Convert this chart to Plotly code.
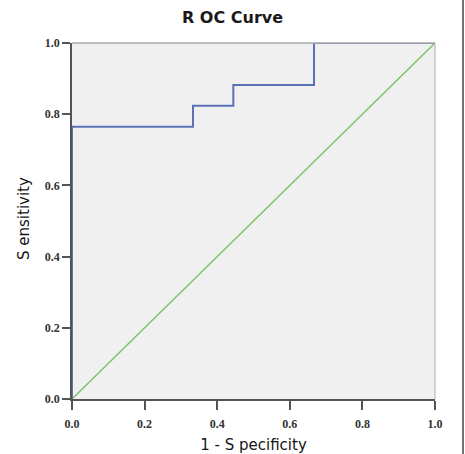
import plotly.graph_objects as go

# ROC curve data (1 - specificity, sensitivity)
fpr = [0.0, 0.0, 3/9, 3/9, 4/9, 4/9, 6/9, 6/9, 1.0]
tpr = [0.0, 13/17, 13/17, 14/17, 14/17, 15/17, 15/17, 1.0, 1.0]
ref_x = [0.0, 1.0]
ref_y = [0.0, 1.0]
tick_vals = [0.0, 0.2, 0.4, 0.6, 0.8, 1.0]
tick_text = ["0.0", "0.2", "0.4", "0.6", "0.8", "1.0"]

fig = go.Figure()
fig.add_trace(go.Scatter(x=ref_x, y=ref_y, mode="lines", cliponaxis=False,
                         line=dict(color="#7cc46a", width=1.5), showlegend=False, hoverinfo="skip"))
fig.add_trace(go.Scatter(x=fpr, y=tpr, mode="lines", cliponaxis=False,
                         line=dict(color="#5b72b8", width=2), showlegend=False))

tickfont = dict(family="Liberation Serif, Times New Roman, serif", size=12,
                color="#333333", weight="bold")
titlefont = dict(family="DejaVu Sans, sans-serif", size=15, color="#151515")
axis_common = dict(range=[0, 1], tickvals=tick_vals, ticktext=tick_text, ticks="outside",
                   tickwidth=1.5, tickcolor="#555555", showline=True,
                   linecolor="#555555", linewidth=1.5, showgrid=False, zeroline=False,
                   tickfont=tickfont, fixedrange=True, automargin=False)

fig.update_layout(
    width=465, height=454,
    margin=dict(l=72, r=30, t=43, b=55),
    paper_bgcolor="white", plot_bgcolor="#f0f0f0",
    title=dict(text="R OC Curve", x=0.5, xanchor="center", y=0.962, yanchor="middle",
               font=dict(family="DejaVu Sans, sans-serif", size=16, color="#1a1a1a",
                         weight="bold")),
    xaxis=dict(**axis_common, ticklen=9, ticklabelstandoff=4,
               title=dict(text="1 - S pecificity", font=titlefont)),
    yaxis=dict(**axis_common, ticklen=8),
    annotations=[
        dict(text="S ensitivity", xref="paper", yref="paper", x=(24 - 72) / 363,
             y=(399 - 219) / 356, xanchor="center", yanchor="middle", textangle=-90,
             showarrow=False, font=titlefont),
    ],
    shapes=[
        dict(type="line", xref="paper", yref="paper", x0=0, x1=1, y0=1, y1=1,
             line=dict(color="#aaaaaa", width=1.5)),
        dict(type="line", xref="paper", yref="paper", x0=1, x1=1, y0=0, y1=1,
             line=dict(color="#bbbbbb", width=1.2)),
        dict(type="line", xref="paper", yref="paper", x0=(463 - 72) / 363, x1=(463 - 72) / 363,
             y0=-55 / 356, y1=(356 + 43) / 356, line=dict(color="#444444", width=1.5)),
    ],
)

fig.write_html("out.html")
